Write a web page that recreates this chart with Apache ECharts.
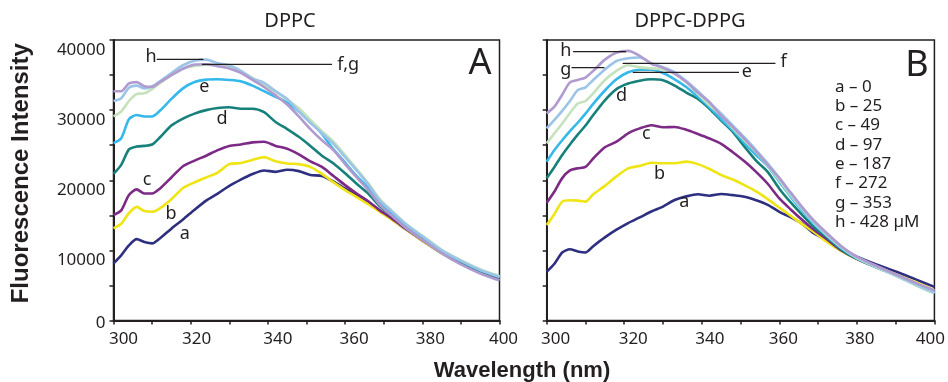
<!DOCTYPE html>
<html><head><meta charset="utf-8">
<script src="https://cdn.jsdelivr.net/npm/echarts@6/dist/echarts.min.js"></script>
<style>html,body{margin:0;padding:0;background:#fff}#c{width:948px;height:382px}</style>
</head><body><div id="c"></div>
<script>
// ---------- DATA ----------
const wavelengths = [300,302,304,306,308,310,312,315,318,321,324,327,330,333,336,339,342,345,348,351,354,357,360,363,366,369,372,376,380,385,390,395,400];
const seriesLabels = ['a','b','c','d','e','f','g','h'];
const concLabels = ['a \u2013 0','b \u2013 25','c \u2013 49','d \u2013 97','e \u2013 187','f \u2013 272','g \u2013 353','h - 428 \u00b5M'];
const panelTitles = ['DPPC','DPPC-DPPG'];
const panelLetters = ['A','B'];
const xTickLabels = [300,320,340,360,380,400];
const yTickLabels = [0,10000,20000,30000,40000];

// Panel A (DPPC)
const dppc_a = [8150,9300,10700,11600,11200,11000,11700,13100,14400,15800,17100,18100,19200,20100,20900,21400,21200,21500,21300,20750,20600,19800,18800,17900,16900,15600,14500,12900,11400,9600,8100,6900,6000];
const dppc_b = [13150,13800,15300,16200,15600,15500,16000,17300,18900,19700,20400,21100,22300,22450,22900,23300,22700,22400,22300,21900,20900,19700,18600,17600,16600,15500,14400,12900,11400,9600,8100,6900,6000];
const dppc_c = [15040,15700,17900,18700,18100,18100,18800,20400,22000,22800,23500,24300,24900,25100,25400,25500,24900,24500,23700,22700,21900,20600,19300,18100,17000,15700,14600,13000,11500,9700,8200,6900,6000];
const dppc_d = [20900,22200,24400,24800,24900,25100,26100,27800,28800,29500,30000,30300,30400,30200,30200,29700,28300,27300,26200,24900,23500,22400,21000,19500,18100,16300,15000,13200,11700,9800,8300,7000,6100];
const dppc_e = [25300,26000,28700,29300,29100,29100,29900,31600,33100,34000,34350,34400,34300,34100,33500,32700,31900,31100,29800,28400,26600,24400,22500,20600,18900,16800,15400,13500,12000,10000,8500,7200,6300];
const dppc_f = [29100,29800,31300,32300,32400,33000,33800,35000,35900,36300,36450,36400,36100,35500,34600,33600,32600,31500,30300,28600,27000,25500,23600,21600,19600,17300,15700,13700,12100,10100,8600,7300,6300];
const dppc_g = [31300,31700,33200,33500,33100,33400,34100,35300,36400,37050,37200,36700,36400,35600,34500,33900,32700,31600,29800,28200,26700,25200,23300,21400,19400,17100,15600,13600,12000,10000,8500,7200,6200];
const dppc_h = [32700,32700,33800,34000,33400,33300,34000,35000,35900,36500,36550,36250,35950,35300,34300,33300,32100,30800,29100,27300,25700,24300,22300,20400,18600,16500,15000,13100,11500,9600,8000,6700,5700];

// Panel B (DPPC-DPPG)
const dppg_a = [6960,8100,9700,10150,9850,9700,10600,11850,12950,13900,14700,15550,16250,17180,17700,18000,17800,18040,17880,17650,17150,16500,15500,14700,13750,12400,11500,10100,9100,8000,7000,5900,4800];
const dppg_b = [13620,15200,16950,17150,17100,16950,18000,19200,20550,21700,22050,22500,22420,22420,22650,22300,21600,20750,20100,19300,18400,17300,16100,14900,13700,12600,11300,9900,8800,7700,6600,5500,4300];
const dppg_c = [16800,18400,20300,21400,21700,21900,23100,24700,25500,26700,27400,27850,27550,27600,27200,26600,25950,25200,24000,22700,21200,19500,17400,15800,14300,12900,11700,10000,8800,7600,6500,5300,4200];
const dppg_d = [20300,21900,23600,25100,26500,27800,29300,31400,33000,33800,34200,34400,34250,33500,32500,31600,30200,28500,26900,24800,22800,21200,18800,16800,15000,13300,12000,10100,8800,7600,6500,5300,4100];
const dppg_e = [22650,24300,25700,27000,28200,29500,30900,32800,34400,35400,35750,35750,35300,34400,33300,31900,30400,28700,27100,25300,23600,22000,19800,17600,15600,13700,12200,10300,8900,7600,6400,5100,3900];
const dppg_f = [25270,26700,28100,29600,30950,31300,32400,34300,35600,36400,36100,35950,35800,35200,34000,32300,30700,29200,27400,25700,24000,22100,20000,17800,15800,13900,12300,10400,8900,7600,6400,5100,3900];
const dppg_g = [27400,28600,29900,31300,32850,33250,34300,35800,37000,37400,37500,36700,36100,35400,34150,32700,31100,29500,27800,26100,24300,22400,20300,18000,15900,14000,12400,10500,9000,7700,6500,5200,4000];
const dppg_h = [29540,30500,32200,33950,34300,34650,35600,37200,38200,38450,37750,36600,36050,35200,34000,32500,31100,29200,27600,25900,24100,22200,20300,18200,16100,14200,12600,10600,9100,7800,6600,5400,4300];

// curve annotations (letter, wavelength, intensity) and leader lines (from, to, intensity)
const annA_labels = [['h',309.7,37580],['f,g',360.8,36430],['e',323.5,33300],['d',328.1,28740],['c',308.7,20040],['b',314.9,15190],['a',318.5,12340]];
const annA_leaders = [[311.2,323.3,37250],[322.9,356.6,36530]];
const annB_labels = [['h',304.9,38430],['g',304.9,35720],['f',361.1,36860],['e',351.6,35430],['d',319.3,31990],['c',325.7,26590],['b',329.1,20890],['a',335.5,16850]];
const annB_leaders = [[306.8,320.5,38330],[306.4,314.9,36050],[319.6,359,36680],[322.2,349.6,35390]];

const colors = ['#2e2f7f','#f0e514','#7d2a86','#17807b','#35b8ea','#c6e2bd','#9bc4e8','#b09bd1'];

// ---------- CHART ----------
const panelA = [dppc_a,dppc_b,dppc_c,dppc_d,dppc_e,dppc_f,dppc_g,dppc_h];
const panelB = [dppg_a,dppg_b,dppg_c,dppg_d,dppg_e,dppg_f,dppg_g,dppg_h];
const FONT = '"Noto Sans", sans-serif';
const BOLD = '"Liberation Sans", Arial, sans-serif';
const INK = '#231f20';
// horizontal nudges of the x tick labels (px), as set in the original figure
const labelShift = [[10,6,10,9,8,4],[9,9,8,4,3,-4]];

const chart = echarts.init(document.getElementById('c'), null, {renderer:'canvas'});

function xAxis(gi){
  const rich = {};
  xTickLabels.forEach((v, i) => {
    const s = labelShift[gi][i];
    rich['t' + i] = {fontSize:17, fontFamily:FONT, color:INK,
      padding: s >= 0 ? [0,0,0,2*s] : [0,-2*s,0,0]};
  });
  return {type:'value', gridIndex:gi, min:300, max:400, interval:10,
    axisLine:{show:true, onZero:false, lineStyle:{color:INK, width:2}},
    axisTick:{show:true, inside:false, length:4, lineStyle:{color:INK, width:1.5}},
    axisLabel:{show:true, showMinLabel:true, showMaxLabel:true, margin:10, fontSize:17, fontFamily:FONT, color:INK,
      formatter: v => { const i = xTickLabels.indexOf(v); return i >= 0 ? '{t' + i + '|' + v + '}' : ''; },
      rich: rich},
    splitLine:{show:false}};
}
function yAxis(gi, showLabels){
  const ax = {type:'value', gridIndex:gi, min:0, max:40000, interval:5000,
    axisLine:{show:true, onZero:false, lineStyle:{color:INK, width:2}},
    axisTick:{show:true, inside:false, length:4, lineStyle:{color:INK, width:1.5}},
    axisLabel:{show:showLabels, margin:8, fontFamily:FONT, color:INK, verticalAlign:'top',
      formatter: v => v === 0 ? '{z|0}' : (yTickLabels.indexOf(v) >= 0 ? '{n|' + v + '}' : ''),
      rich:{n:{fontSize:17, lineHeight:20, fontFamily:FONT, color:INK}, z:{fontSize:17, lineHeight:5, fontFamily:FONT, color:INK}}},
    splitLine:{show:false}};
  if (showLabels) {
    ax.name = 'Fluorescence Intensity';
    ax.nameLocation = 'middle';
    ax.nameGap = 80;
    ax.nameTextStyle = {fontFamily:BOLD, fontWeight:'bold', fontSize:24, color:INK, padding:[0,0,0,14]};
  }
  return ax;
}

const series = [];
[panelA, panelB].forEach((panel, gi) => {
  panel.forEach((vals, si) => {
    series.push({type:'line', name:seriesLabels[si], xAxisIndex:gi, yAxisIndex:gi,
      data: wavelengths.map((w,i) => [w, vals[i]]),
      showSymbol:false, smooth:0.25, z:2+si,
      lineStyle:{color:colors[si], width:2.6}, itemStyle:{color:colors[si]}, animation:false});
  });
});

chart.setOption({
  animation:false,
  backgroundColor:'#fff',
  grid:[
    {left:113.5, top:40, width:386, height:280.5, show:true, borderColor:INK, borderWidth:1.5, backgroundColor:'transparent'},
    {left:546.7, top:40, width:390, height:280.5, show:true, borderColor:INK, borderWidth:1.5, backgroundColor:'transparent'}
  ],
  xAxis:[xAxis(0), xAxis(1)],
  yAxis:[yAxis(0,true), yAxis(1,false)],
  series: series
});

// ---------- annotations ----------
const g = [];
function txt(x, y, s, size, extra){
  g.push(Object.assign({type:'text', x:x, y:y, z:100, style:{text:s, font: size + 'px ' + FONT, fill:INK, textAlign:'center', textVerticalAlign:'middle'}}, extra||{}));
}
[[annA_labels, annA_leaders],[annB_labels, annB_leaders]].forEach((pair, gi) => {
  pair[0].forEach(a => {
    const p = chart.convertToPixel({gridIndex:gi}, [a[1], a[2]]);
    txt(p[0], p[1], a[0], 18);
  });
  pair[1].forEach(l => {
    const p1 = chart.convertToPixel({gridIndex:gi}, [l[0], l[2]]);
    const p2 = chart.convertToPixel({gridIndex:gi}, [l[1], l[2]]);
    g.push({type:'line', z:100, shape:{x1:p1[0], y1:p1[1], x2:p2[0], y2:p2[1]}, style:{stroke:INK, lineWidth:1.3}});
  });
});
// titles
txt(290, 21, panelTitles[0], 20);
txt(690, 21, panelTitles[1], 20);
// panel letters
txt(480, 64, panelLetters[0], 36);
txt(917, 66, panelLetters[1], 36);
// concentration key
concLabels.forEach((s, i) => {
  g.push({type:'text', x:835, y:87 + i*19.3, z:100, style:{text:s, font:'17px ' + FONT, fill:INK, textAlign:'left', textVerticalAlign:'middle'}});
});
// x axis title
g.push({type:'text', x:522, y:371, z:100, style:{text:'Wavelength (nm)', font:'bold 22px ' + BOLD, fill:INK, textAlign:'center', textVerticalAlign:'middle'}});
chart.setOption({graphic:g});
</script>
</body></html>
